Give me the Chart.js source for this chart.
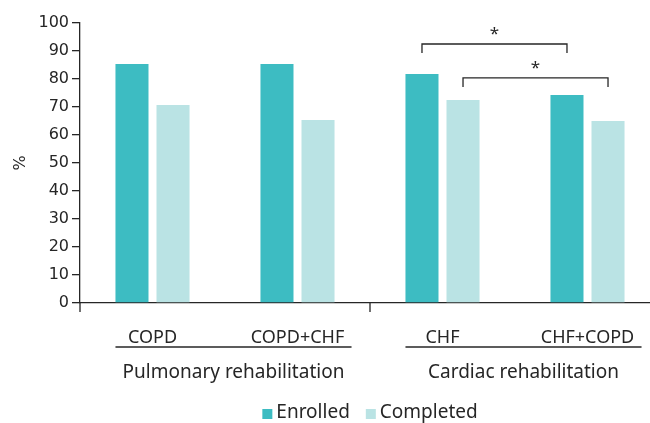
<!DOCTYPE html>
<html>
<head>
<meta charset="utf-8">
<script src="https://cdn.jsdelivr.net/npm/chart.js@4"></script>
<style>
  html, body { margin: 0; padding: 0; background: #fff; overflow: hidden; }
  #wrap { width: 660px; height: 423px; }
</style>
</head>
<body>
<div id="wrap"><canvas id="c"></canvas></div>
<script>
// 数据
const categories = ['COPD', 'COPD+CHF', 'CHF', 'CHF+COPD'];
const groups = ['Pulmonary rehabilitation', 'Cardiac rehabilitation'];
const groupSpans = [[0, 1], [2, 3]];
const enrolled = [85.4, 85.4, 81.8, 74.3];
const completed = [70.7, 65.4, 72.5, 65.0];
const yTicks = [0, 10, 20, 30, 40, 50, 60, 70, 80, 90, 100];
// 显著性括号: [数据集, 类别A, 类别B, 高度]
const brackets = [[0, 2, 3, 92.5], [1, 2, 3, 80.4]];
const sigMark = '*';

const TEAL = '#3dbcc2';
const LIGHT = '#bae3e4';
const INK = '#262626';
const FONT = "'Noto Sans', sans-serif";

const extras = {id: 'extras', afterDraw: (chart) => {
  const ctx = chart.ctx, ca = chart.chartArea;
  const xs = chart.scales.x, ys = chart.scales.y;
  const m0 = chart.getDatasetMeta(0), m1 = chart.getDatasetMeta(1);
  ctx.save();
  ctx.strokeStyle = INK;
  ctx.lineWidth = 1.3;

  // y 轴下延 + 分组分隔刻度
  const divX = (xs.getPixelForValue(1) + xs.getPixelForValue(2)) / 2;
  ctx.beginPath();
  ctx.moveTo(ca.left, ca.bottom); ctx.lineTo(ca.left, ca.bottom + 9);
  ctx.moveTo(divX, ca.bottom); ctx.lineTo(divX, ca.bottom + 9);
  ctx.stroke();

  // 分组下划线与标题
  ctx.fillStyle = INK;
  ctx.font = '19px ' + FONT;
  ctx.textAlign = 'center';
  ctx.textBaseline = 'middle';
  groupSpans.forEach((sp, i) => {
    const b0 = m0.data[sp[0]], b1 = m1.data[sp[1]];
    const x0 = b0.x - b0.width / 2;
    const x1 = b1.x + b1.width / 2 + 17;
    ctx.beginPath();
    ctx.moveTo(x0, ca.bottom + 44); ctx.lineTo(x1, ca.bottom + 44);
    ctx.stroke();
    ctx.fillText(groups[i], (x0 + x1) / 2, ca.bottom + 70);
  });

  // 图例
  const items = chart.data.datasets.map(d => ({t: d.label, c: d.backgroundColor}));
  const box = 10, gapIn = 4, gapOut = 16;
  const widths = items.map(it => box + gapIn + ctx.measureText(it.t).width);
  const total = widths.reduce((a, b) => a + b, 0) + gapOut * (items.length - 1);
  let lx = (ca.left + ca.right) / 2 - total / 2;
  const ly = ca.bottom + 110;
  ctx.textAlign = 'left';
  items.forEach((it, i) => {
    ctx.fillStyle = it.c;
    ctx.fillRect(lx, ly - box / 2 + 1, box, box);
    ctx.fillStyle = INK;
    ctx.fillText(it.t, lx + box + gapIn, ly);
    lx += widths[i] + gapOut;
  });

  // 显著性括号
  ctx.textAlign = 'center';
  ctx.font = '17px ' + FONT;
  brackets.forEach(([ds, a, b, lvl]) => {
    const meta = chart.getDatasetMeta(ds);
    const xa = meta.data[a].x, xb = meta.data[b].x;
    const y = ys.getPixelForValue(lvl);
    ctx.beginPath();
    ctx.moveTo(xa, y + 9); ctx.lineTo(xa, y); ctx.lineTo(xb, y); ctx.lineTo(xb, y + 9);
    ctx.stroke();
    ctx.fillText(sigMark, (xa + xb) / 2, y - 10);
  });
  ctx.restore();
}};

new Chart(document.getElementById('c').getContext('2d'), {
  type: 'bar',
  data: {
    labels: categories,
    datasets: [
      {label: 'Enrolled', data: enrolled, backgroundColor: TEAL},
      {label: 'Completed', data: completed, backgroundColor: LIGHT}
    ]
  },
  options: {
    responsive: true,
    maintainAspectRatio: false,
    animation: false,
    layout: {padding: {top: 23, right: 0, left: 0, bottom: 0}},
    datasets: {bar: {categoryPercentage: 0.566, barPercentage: 0.805}},
    plugins: {legend: {display: false}, tooltip: {enabled: false}},
    scales: {
      x: {
        afterFit: (s) => { s.height = 120; },
        grid: {display: false},
        border: {color: INK, width: 1.3},
        ticks: {color: INK, font: {family: FONT, size: 18}, padding: 16}
      },
      y: {
        min: 0, max: 100,
        afterFit: (s) => { s.width = 80; },
        afterBuildTicks: (s) => { s.ticks = yTicks.map(v => ({value: v})); },
        grid: {drawOnChartArea: false, drawTicks: true, tickLength: 8, color: INK, lineWidth: 1.3},
        border: {color: INK, width: 1.3},
        title: {display: true, text: '%', color: INK, font: {family: 'DejaVu Sans', size: 16}, padding: {top: 11, bottom: 0}},
        ticks: {color: INK, font: {family: 'DejaVu Sans', size: 16}, padding: 3}
      }
    }
  },
  plugins: [extras]
});
</script>
</body>
</html>
